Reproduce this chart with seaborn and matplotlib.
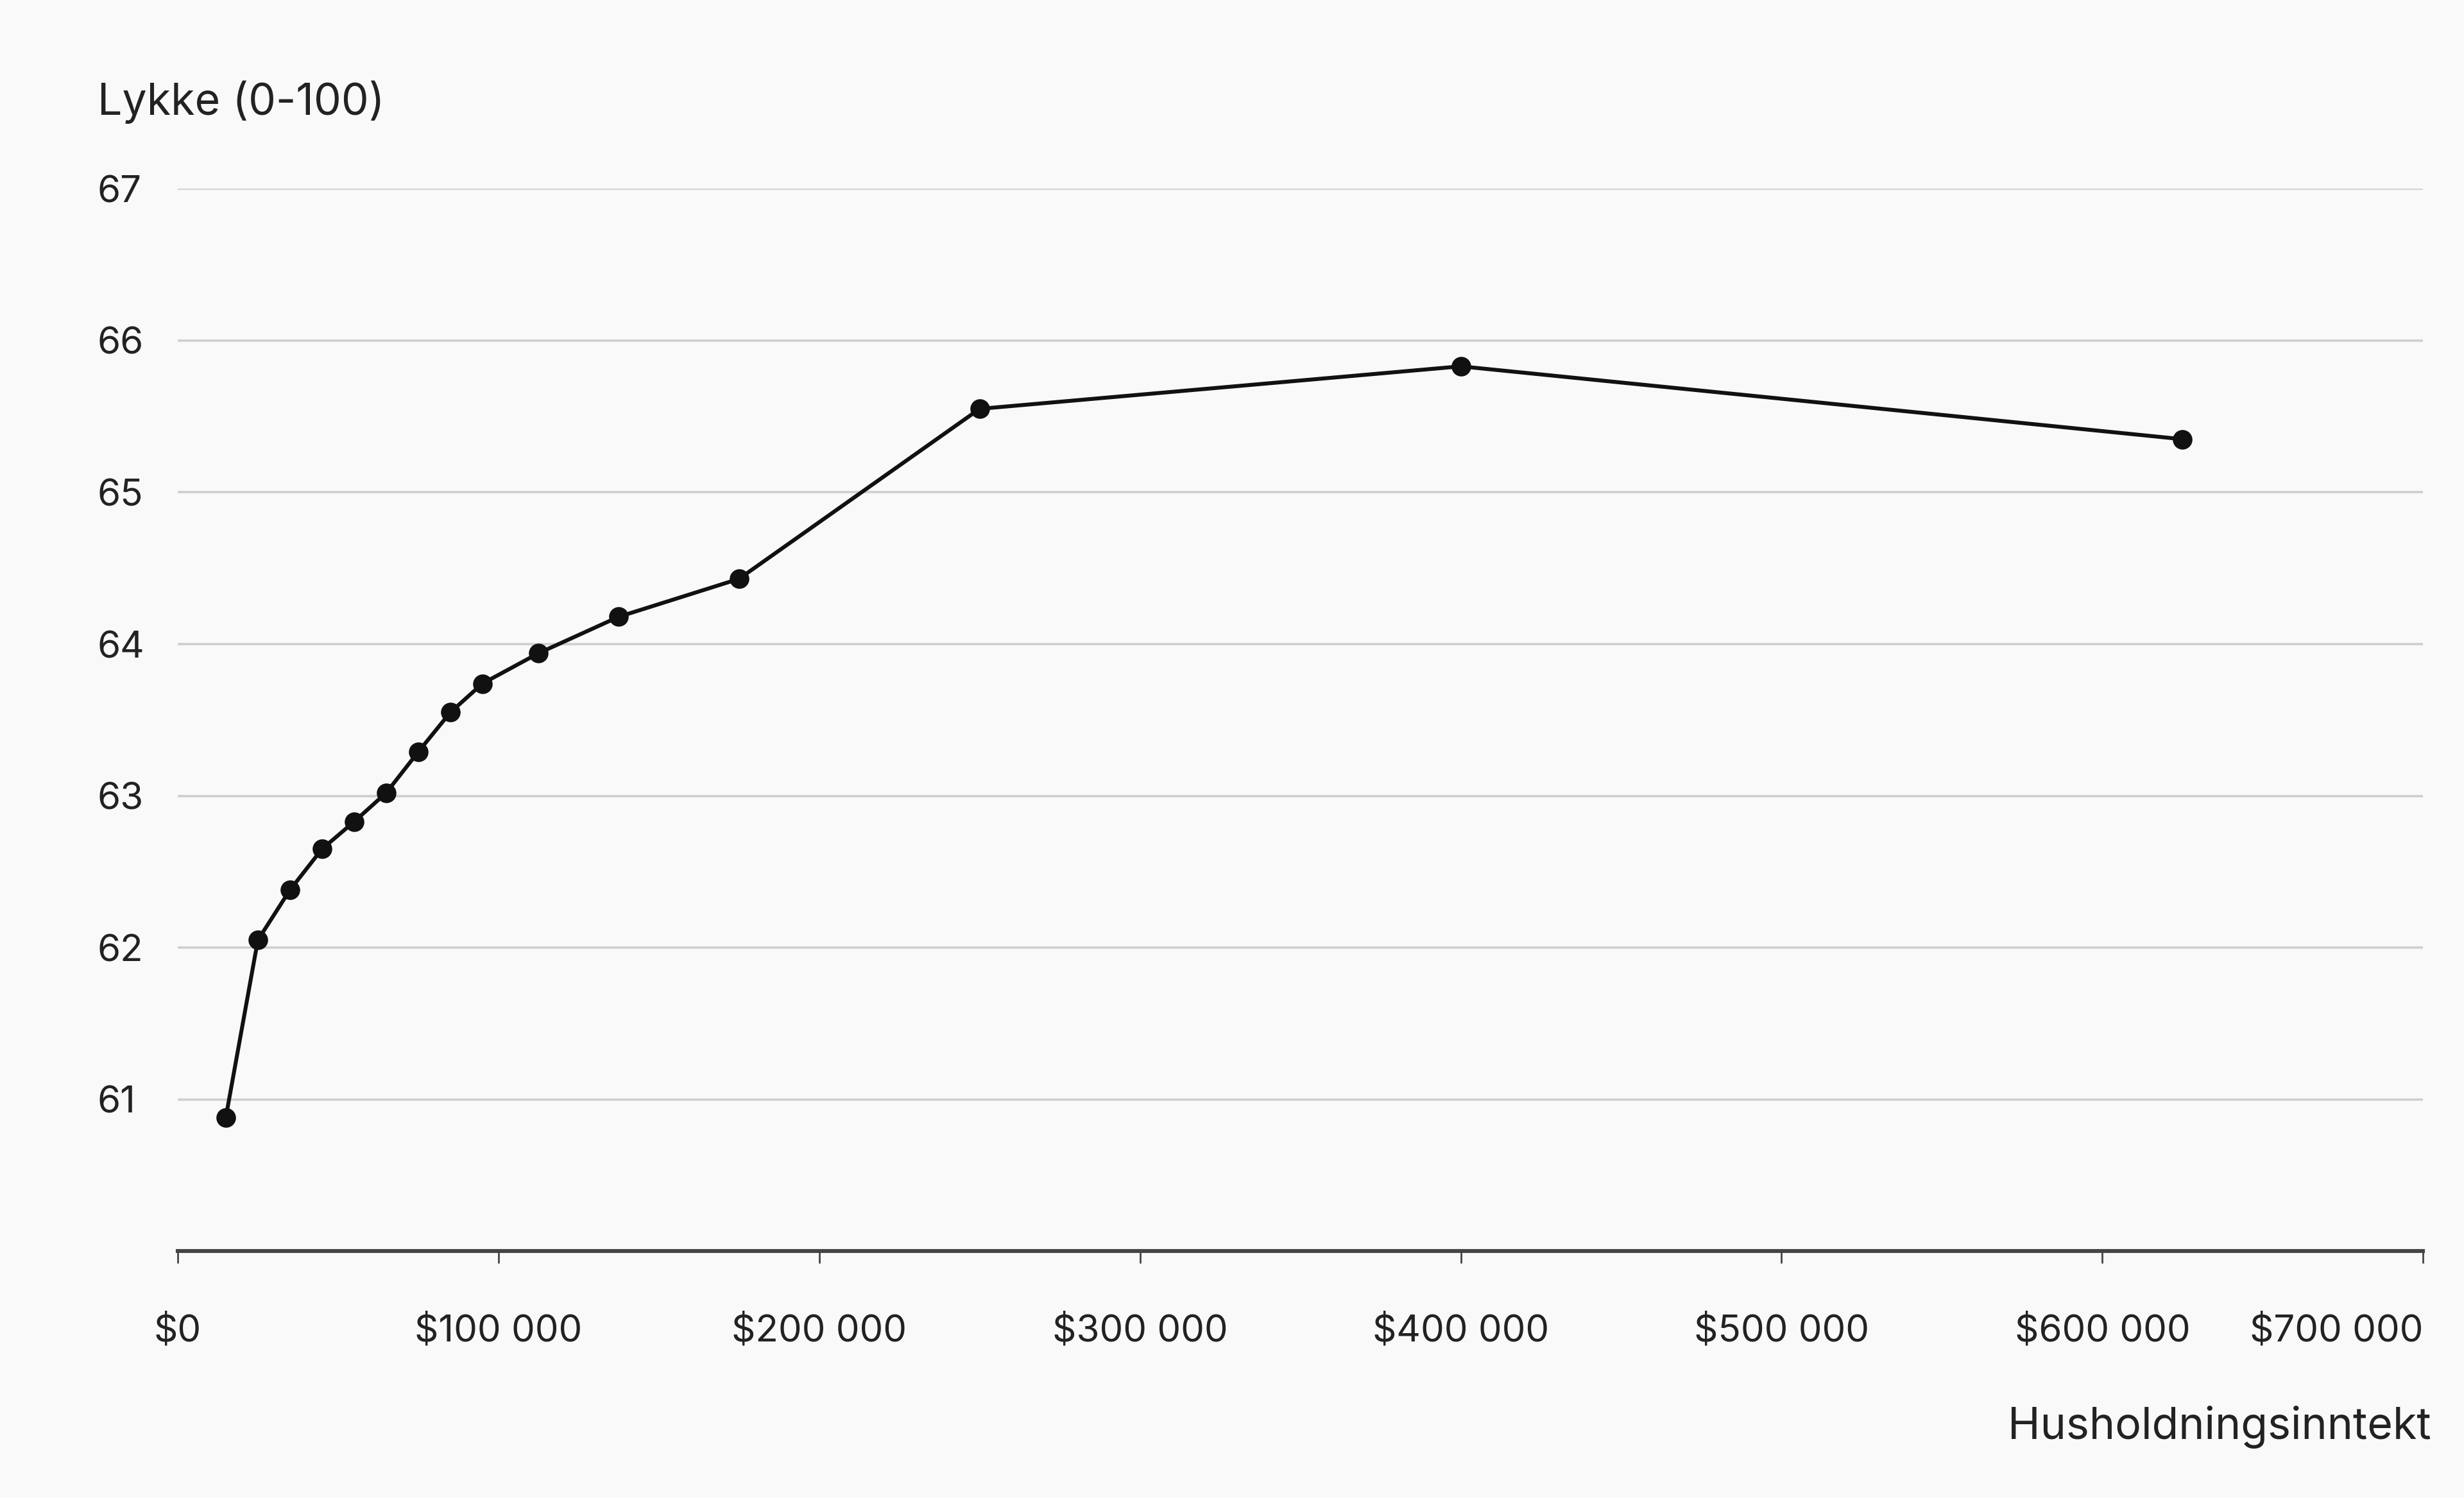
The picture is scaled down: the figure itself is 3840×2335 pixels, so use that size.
import matplotlib
matplotlib.use('Agg')
import matplotlib.pyplot as plt
import matplotlib.ticker as mticker
import seaborn as sns
import pandas as pd

# Income midpoints (USD) and mean happiness (0-100)
income = [15000, 25000, 35000, 45000, 55000, 65000, 75000, 85000, 95000,
          112500, 137500, 175000, 250000, 400000, 625000]
happiness = [60.88, 62.05, 62.38, 62.65, 62.83, 63.02, 63.29, 63.55, 63.74,
             63.94, 64.18, 64.43, 65.55, 65.83, 65.35]

x_ticks = [0, 100000, 200000, 300000, 400000, 500000, 600000, 700000]
y_ticks = [61, 62, 63, 64, 65, 66, 67]

df = pd.DataFrame({"income": income, "happiness": happiness})

bg = '#f9f9f9'
sns.set_theme(style='white')
plt.rcParams['font.family'] = ['Inter', 'DejaVu Sans']
plt.rcParams['text.color'] = '#222222'

fig = plt.figure(figsize=(19.2, 11.675), dpi=200, facecolor=bg)
ax = fig.add_axes([0.0721, 0.1647, 0.9834 - 0.0721, 0.874 - 0.1647])
ax.set_facecolor(bg)

sns.lineplot(data=df, x="income", y="happiness", ax=ax, color='#111111',
             linewidth=2.2, marker='o', markersize=11, markeredgewidth=0,
             markerfacecolor='#111111', zorder=3)

ax.set_xlim(0, 700000)
ax.set_ylim(60, 67)
ax.set_xticks(x_ticks)
ax.set_yticks(y_ticks)
ax.xaxis.set_major_formatter(mticker.FuncFormatter(
    lambda v, p: "$" + f"{int(v):,}".replace(",", " ")))

ax.grid(axis='y', color='#cfcfcf', linewidth=1.3)
ax.grid(axis='x', visible=False)
for side in ['top', 'right', 'left']:
    ax.spines[side].set_visible(False)
ax.spines['bottom'].set_color('#444444')
ax.spines['bottom'].set_linewidth(2.2)

ax.tick_params(axis='x', which='major', bottom=True, length=7, width=1,
               color='#444444', pad=28, labelsize=21, labelcolor='#222222')
ax.tick_params(axis='y', left=False, pad=39, labelsize=21, labelcolor='#222222')
for lbl in ax.get_yticklabels():
    lbl.set_horizontalalignment('left')
xl = ax.get_xticklabels()
xl[-1].set_horizontalalignment('right')

ax.set_xlabel('')
ax.set_ylabel('')
fig.text(0.0395, 0.932, 'Lykke (0-100)', ha='left', va='center', fontsize=24.5)
fig.text(0.9866, 0.0472, 'Husholdningsinntekt', ha='right', va='center', fontsize=24.5)

fig.savefig('out.png', dpi=200, facecolor=bg)
